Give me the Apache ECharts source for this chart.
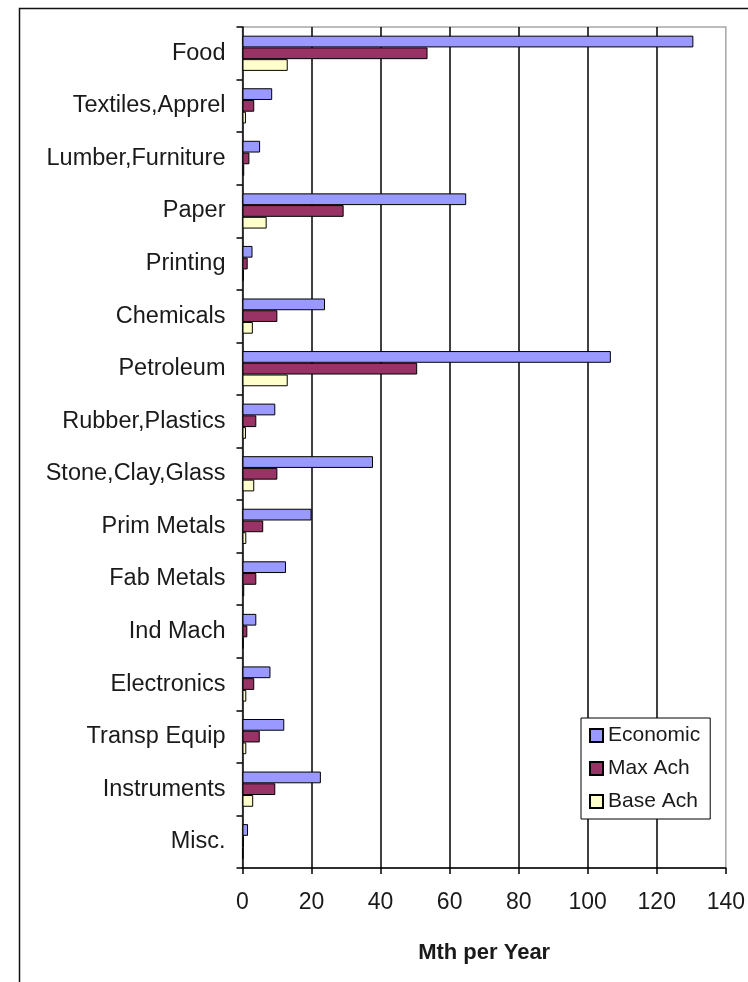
<!DOCTYPE html>
<html>
<head>
<meta charset="utf-8">
<script src="https://cdn.jsdelivr.net/npm/echarts@6/dist/echarts.min.js"></script>
<style>
  html, body { margin: 0; padding: 0; background: #fff; }
  #chart { width: 748px; height: 982px; }
</style>
</head>
<body>
<div id="chart"></div>
<script>
// Industry sectors, top to bottom
const categories = ['Food', 'Textiles,Apprel', 'Lumber,Furniture', 'Paper', 'Printing', 'Chemicals',
  'Petroleum', 'Rubber,Plastics', 'Stone,Clay,Glass', 'Prim Metals', 'Fab Metals', 'Ind Mach',
  'Electronics', 'Transp Equip', 'Instruments', 'Misc.'];

// Mth per Year by scenario
const economic = [130.6, 8.6, 5.1, 64.8, 2.9, 23.9, 106.7, 9.5, 37.8, 20.0, 12.6, 4.0, 8.1, 12.1, 22.7, 1.6];
const maxAch   = [53.6, 3.4, 2.0, 29.3, 1.5, 10.1, 50.6, 4.0, 10.1, 6.0, 4.0, 1.4, 3.4, 5.0, 9.5, 0.4];
const baseAch  = [13.1, 1.0, 0.5, 7.0, 0.4, 3.0, 13.1, 1.0, 3.4, 1.1, 0.5, 0.3, 1.1, 1.1, 3.1, 0.2];

const xTicks = { min: 0, max: 140, interval: 20 };

const FONT = '"Liberation Sans", Arial, sans-serif';
const TEXT = '#1a1a1a';

const chart = echarts.init(document.getElementById('chart'), null, { renderer: 'canvas' });

function barSeries(name, data, color) {
  return {
    name: name,
    type: 'bar',
    data: data,
    barGap: '0%',
    barCategoryGap: '33%',
    itemStyle: { color: color, borderColor: '#000', borderWidth: 1 },
    emphasis: { disabled: true },
    animation: false
  };
}

chart.setOption({
  backgroundColor: '#fff',
  animation: false,
  graphic: [{
    type: 'rect',
    left: 17, top: 6,
    shape: { width: 800, height: 1100 },
    style: { fill: 'none', stroke: '#111', lineWidth: 1.5 },
    silent: true,
    z: 0
  }],
  grid: {
    left: 242.5, right: 17.5, top: 27, bottom: 114,
    show: true,
    borderColor: '#a6a6a6',
    borderWidth: 1.5,
    backgroundColor: 'transparent'
  },
  legend: {
    orient: 'vertical',
    left: 581, top: 718,
    width: 132,
    padding: [7, 10, 7, 8],
    itemGap: 12,
    itemWidth: 13, itemHeight: 13,
    icon: 'rect',
    backgroundColor: '#fff',
    borderColor: '#000',
    borderWidth: 1,
    borderRadius: 0,
    textStyle: { fontFamily: FONT, fontSize: 21, color: TEXT },
    data: ['Economic', 'Max Ach', 'Base Ach']
  },
  xAxis: {
    type: 'value',
    min: xTicks.min, max: xTicks.max, interval: xTicks.interval,
    axisLine: { show: true, lineStyle: { color: '#000', width: 1.5 } },
    axisTick: { show: true, length: 6, lineStyle: { color: '#000', width: 1.5 } },
    axisLabel: { fontFamily: FONT, fontSize: 23, color: TEXT, margin: 23 },
    splitLine: { show: true, showMinLine: false, showMaxLine: false, lineStyle: { color: '#000', width: 1.5 } },
    name: 'Mth per Year',
    nameLocation: 'middle',
    nameGap: 74,
    nameTextStyle: { fontFamily: FONT, fontSize: 22, fontWeight: 'bold', color: TEXT }
  },
  yAxis: {
    type: 'category',
    data: categories,
    inverse: true,
    axisLine: { show: true, lineStyle: { color: '#000', width: 1.5 } },
    axisTick: { show: true, length: 6, lineStyle: { color: '#000', width: 1.5 } },
    axisLabel: { fontFamily: FONT, fontSize: 23.5, color: TEXT, margin: 17 },
    splitLine: { show: false }
  },
  series: [
    barSeries('Economic', economic, '#9999ff'),
    barSeries('Max Ach', maxAch, '#993366'),
    barSeries('Base Ach', baseAch, '#ffffcc')
  ]
});
</script>
</body>
</html>
